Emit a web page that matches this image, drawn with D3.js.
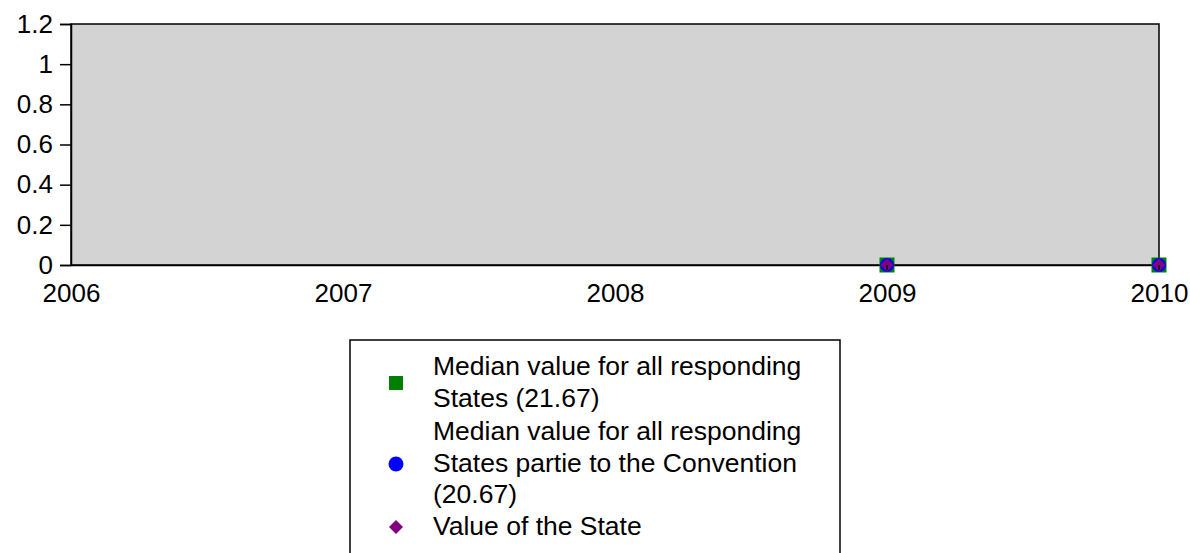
<!DOCTYPE html>
<html><head><meta charset="utf-8">
<script src="https://cdn.jsdelivr.net/npm/d3@7"></script>
<style>body{margin:0;background:#fff;}svg{display:block;font-family:"Liberation Sans",Arial,sans-serif;}</style>
</head><body>
<svg id="c" width="1190" height="553"></svg>
<script>
const years = [2006, 2007, 2008, 2009, 2010];
const yTicks = [0, 0.2, 0.4, 0.6, 0.8, 1, 1.2];
const dataYears = [2009, 2010];
const medianAll = [0, 0];
const medianParties = [0, 0];
const stateValue = [0, 0];
const legendLabels = [
  ["Median value for all responding", "States (21.67)"],
  ["Median value for all responding", "States partie to the Convention", "(20.67)"],
  ["Value of the State"]
];

const svg = d3.select("#c");
const L = 71, R = 1159, T = 24, B = 265;
const x = d3.scaleLinear().domain([2006, 2010]).range([L, R]);
const y = d3.scaleLinear().domain([0, 1.2]).range([B, T]);

svg.append("rect").attr("x", L).attr("y", T).attr("width", R - L).attr("height", B - T)
  .attr("fill", "#d3d3d3").attr("stroke", "#000").attr("stroke-width", 1.5);

const ya = svg.append("g").attr("transform", `translate(${L},0)`)
  .call(d3.axisLeft(y).tickValues(yTicks).tickSize(11).tickPadding(7).tickFormat(d => String(d)));
ya.select(".domain").attr("stroke", "#000").attr("stroke-width", 1.5);
ya.selectAll(".tick line").attr("stroke", "#000").attr("stroke-width", 1.5);
ya.selectAll("text").attr("font-size", 26).attr("fill", "#000")
  .attr("font-family", "Liberation Sans, Arial, sans-serif");

const xa = svg.append("g").attr("transform", `translate(0,${B})`)
  .call(d3.axisBottom(x).tickValues(years).tickSize(0).tickPadding(19).tickFormat(d3.format("d")));
xa.select(".domain").attr("stroke", "#000").attr("stroke-width", 1.5);
xa.selectAll("text").attr("font-size", 26).attr("fill", "#000")
  .attr("font-family", "Liberation Sans, Arial, sans-serif");

const pts = svg.append("g");
dataYears.forEach((yr, i) => {
  const cx = x(yr);
  pts.append("rect").attr("x", cx - 7.5).attr("y", y(medianAll[i]) - 7.5).attr("width", 15).attr("height", 15).attr("fill", "#008000");
  pts.append("circle").attr("cx", cx).attr("cy", y(medianParties[i])).attr("r", 7).attr("fill", "#0000ff");
  const cy = y(stateValue[i]);
  pts.append("path").attr("d", `M${cx},${cy - 6.5}L${cx + 6.5},${cy}L${cx},${cy + 6.5}L${cx - 6.5},${cy}Z`).attr("fill", "#800080");
  pts.append("line").attr("x1", cx).attr("x2", cx).attr("y1", cy).attr("y2", cy + 5).attr("stroke", "#000").attr("stroke-width", 1.5);
});

// Legend
svg.append("rect").attr("x", 350).attr("y", 340).attr("width", 490).attr("height", 230)
  .attr("fill", "#fff").attr("stroke", "#000").attr("stroke-width", 1.5);
const lg = svg.append("g");
const lh = 31.5;
const starts = [366, 431, 526];
const symY = [383, 464, 527];
legendLabels.forEach((lines, i) => {
  lines.forEach((t, j) => {
    lg.append("text").attr("x", 433).attr("y", starts[i] + j * lh).attr("dy", "0.35em")
      .attr("font-size", 26.5).attr("fill", "#000").text(t);
  });
});
lg.append("rect").attr("x", 389).attr("y", symY[0] - 7).attr("width", 14).attr("height", 14).attr("fill", "#008000");
lg.append("circle").attr("cx", 396).attr("cy", symY[1]).attr("r", 7.5).attr("fill", "#0000ff");
lg.append("path").attr("d", `M396,${symY[2]-7}L403,${symY[2]}L396,${symY[2]+7}L389,${symY[2]}Z`).attr("fill", "#800080");
</script>
</body></html>
